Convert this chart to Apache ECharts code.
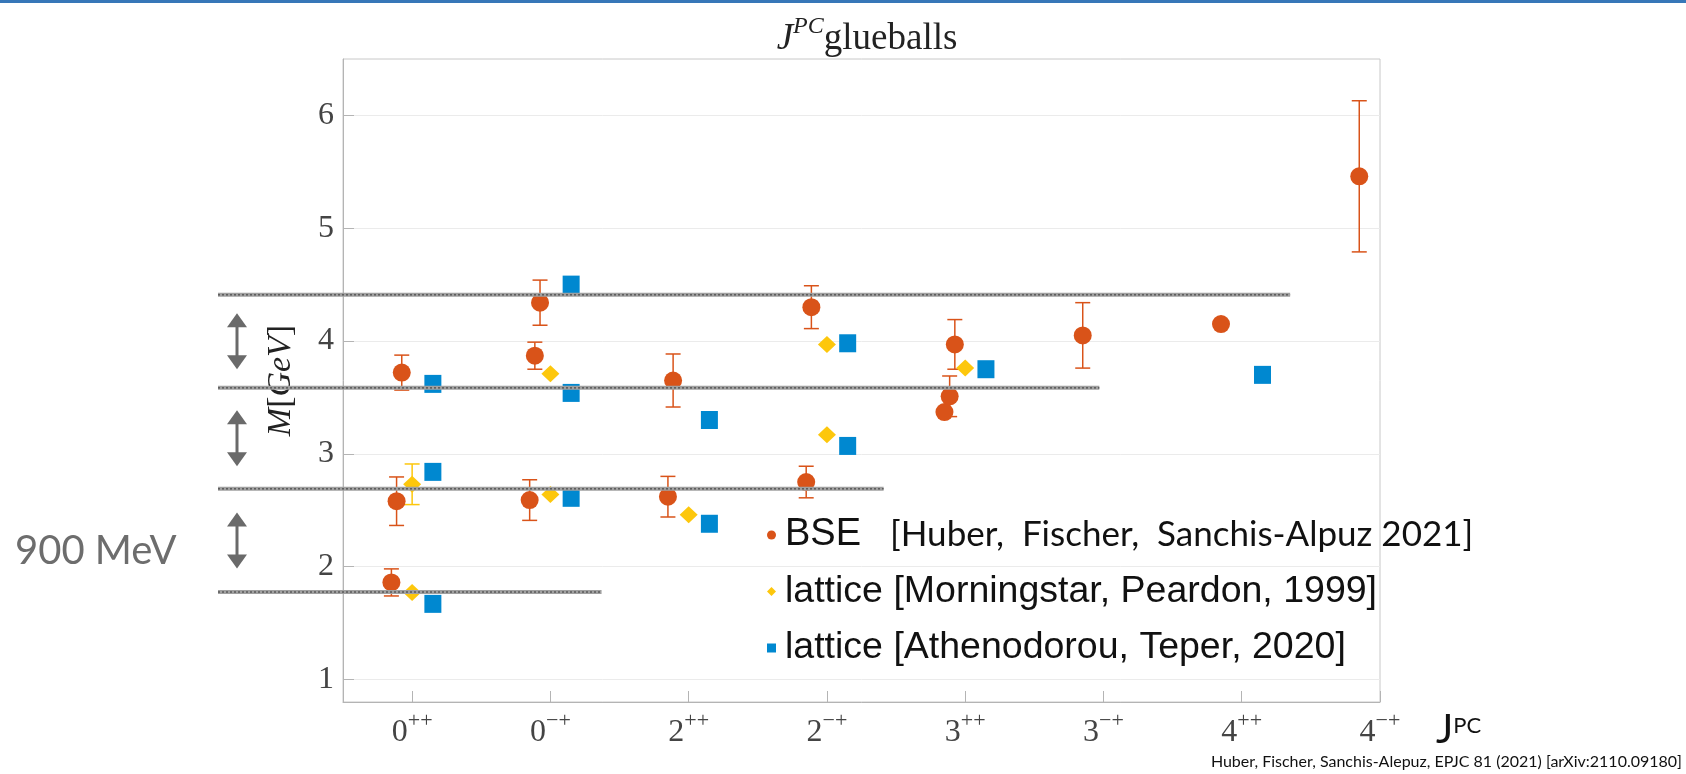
<!DOCTYPE html>
<html><head><meta charset="utf-8">
<script src="https://cdn.jsdelivr.net/npm/echarts@6/dist/echarts.min.js"></script>
<style>html,body{margin:0;padding:0;background:#fff}#c{width:1686px;height:774px}</style>
</head><body><div id="c"></div>
<script>
// ---------------- data ----------------
const catBase = ['0','0','2','2','3','3','4','4'];
const catSup  = ['++','\u2212+','++','\u2212+','++','\u2212+','++','\u2212+'];
const yTicks = [1,2,3,4,5,6];

// BSE [Huber, Fischer, Sanchis-Alpuz 2021]: channel index, excitation level, mass (GeV), error
const bseCat   = [0,0,0, 1,1,1, 2,2, 3,3, 4,4,4, 5, 6, 7];
const bseLevel = [0,1,2, 0,1,2, 0,1, 0,1, 0,1,2, 0, 0, 0];
const bseMass  = [1.86,2.58,3.72, 2.59,3.87,4.34, 2.62,3.65, 2.75,4.30, 3.37,3.51,3.97, 4.05, 4.15, 5.46];
const bseErr   = [0.12,0.215,0.155, 0.18,0.12,0.20, 0.18,0.235, 0.14,0.19, 0,0.18,0.22, 0.29, 0, 0.67];

// lattice [Morningstar, Peardon, 1999]
const mpCat  = [0,0, 1,1, 2, 3,3, 4];
const mpMass = [1.77,2.73, 2.64,3.71, 2.46, 3.17,3.97, 3.76];
const mpErr  = [0,0.18, 0,0, 0, 0,0, 0];

// lattice [Athenodorou, Teper, 2020]
const atCat  = [0,0,0, 1,1,1, 2,2, 3,3, 4, 6];
const atMass = [1.67,2.84,3.62, 2.61,3.54,4.50, 2.38,3.30, 3.07,3.98, 3.75, 3.70];

// 900 MeV level lines (GeV)
const levelLines = [1.775, 2.69, 3.585, 4.41];

// ---------------- chart ----------------
const C_BSE = '#D95319', C_MP = '#FDC70C', C_AT = '#0088D0';
const NAME_BSE = 'BSE [Huber, Fischer, Sanchis-Alpuz 2021]';
const NAME_MP = 'lattice [Morningstar, Peardon, 1999]';
const NAME_AT = 'lattice [Athenodorou, Teper, 2020]';

const bsePts = bseCat.map((c,i)=>[c - 0.15 + 0.0375*bseLevel[i], bseMass[i], bseErr[i]]);
const mpPts  = mpCat.map((c,i)=>[c, mpMass[i], mpErr[i]]);
const atPts  = atCat.map((c,i)=>[c + 0.15, atMass[i]]);

function errSeries(name, pts, color){
  const data = pts.filter(p=>p[2]>0).map(p=>[p[0], p[1]-p[2], p[1]+p[2]]);
  return {
    type:'custom', name, data, silent:true, z:2,
    encode:{x:0, y:[1,2]},
    renderItem(params, api){
      const x = api.value(0);
      const lo = api.coord([x, api.value(1)]);
      const hi = api.coord([x, api.value(2)]);
      const cw = 7.5, st = {stroke:color, lineWidth:1.5};
      return {type:'group', children:[
        {type:'line', shape:{x1:lo[0],y1:lo[1],x2:hi[0],y2:hi[1]}, style:st},
        {type:'line', shape:{x1:lo[0]-cw,y1:lo[1],x2:lo[0]+cw,y2:lo[1]}, style:st},
        {type:'line', shape:{x1:hi[0]-cw,y1:hi[1],x2:hi[0]+cw,y2:hi[1]}, style:st}
      ]};
    }
  };
}

const serif = 'Liberation Serif';
const chart = echarts.init(document.getElementById('c'), null, {renderer:'canvas'});
chart.setOption({
  animation:false,
  backgroundColor:'#fff',
  title:{
    text:'{j|J}{p|PC}{g|glueballs}',
    left:862, textAlign:'center', top:10,
    textStyle:{fontWeight:'normal', rich:{
      j:{fontFamily:serif, fontStyle:'italic', fontWeight:'normal', fontSize:37, color:'#222', lineHeight:48},
      p:{fontFamily:serif, fontStyle:'italic', fontWeight:'normal', fontSize:24, color:'#222', verticalAlign:'top', lineHeight:24},
      g:{fontFamily:serif, fontWeight:'normal', fontSize:37, color:'#222', lineHeight:48}
    }}
  },
  grid:{left:343, right:306, top:59, bottom:72, show:true, borderColor:'#c8c8c8', borderWidth:1},
  xAxis:{
    type:'value', min:-0.5, max:7,
    name:'{j|J}{p|PC}', nameLocation:'end', nameGap:56,
    nameTextStyle:{padding:[56,0,0,0], rich:{
      j:{fontFamily:'Lato', fontSize:41, color:'#111', lineHeight:44},
      p:{fontFamily:'Lato', fontSize:22, color:'#111', lineHeight:24, padding:[0,0,8,0]}
    }},
    splitLine:{show:false},
    axisLine:{onZero:false, lineStyle:{color:'#b4b4b4'}},
    axisTick:{inside:true, length:11, lineStyle:{color:'#b4b4b4'}, customValues:[0,1,2,3,4,5,6,7]},
    axisLabel:{
      customValues:[0,1,2,3,4,5,6,7], margin:8,
      formatter:(v)=>{const i=Math.round(v); return '{b|'+catBase[i]+'}{s|'+catSup[i]+'}';},
      rich:{
        b:{fontFamily:serif, fontSize:32, color:'#444', lineHeight:39, verticalAlign:'bottom'},
        s:{fontFamily:serif, fontSize:22, color:'#444', lineHeight:22, verticalAlign:'top'}
      }
    }
  },
  yAxis:{
    type:'value', min:0.8, max:6.5,
    name:'{i|M}{r|[}{i|GeV}{r|]}', nameLocation:'middle', nameGap:45, nameRotate:90,
    nameTextStyle:{rich:{
      i:{fontFamily:serif, fontStyle:'italic', fontSize:34, color:'#222'},
      r:{fontFamily:serif, fontSize:34, color:'#222'}
    }},
    splitLine:{lineStyle:{color:'#ebebeb'}},
    axisLine:{show:true, onZero:false, lineStyle:{color:'#b4b4b4'}},
    axisTick:{show:true, inside:true, length:11, lineStyle:{color:'#b4b4b4'}, customValues:yTicks},
    axisLabel:{customValues:yTicks, margin:9, fontFamily:serif, fontSize:32, color:'#444'}
  },
  legend:{
    orient:'vertical', left:762, top:510, itemWidth:9, itemHeight:9, itemGap:16.5,
    data:[{name:NAME_BSE, icon:'circle'},{name:NAME_MP, icon:'diamond'},{name:NAME_AT, icon:'rect'}],
    formatter:(n)=> n===NAME_BSE ? '{a|BSE}{c|[Huber,  Fischer,  Sanchis-Alpuz 2021]}' : '{d|'+n+'}',
    textStyle:{color:'#111', fontSize:37.5, lineHeight:40, padding:[0,0,0,4], rich:{
      a:{fontFamily:'Liberation Sans', fontSize:38, color:'#111', width:105, lineHeight:40},
      c:{fontFamily:'Lato', fontSize:35, color:'#111', lineHeight:40},
      d:{fontFamily:'Liberation Sans', fontSize:37.5, color:'#111', lineHeight:40}
    }}
  },
  series:[
    errSeries('err-bse', bsePts, C_BSE),
    errSeries('err-mp', mpPts, C_MP),
    {type:'scatter', name:NAME_BSE, data:bsePts.map(p=>[p[0],p[1]]), symbol:'circle', symbolSize:18, itemStyle:{color:C_BSE, opacity:1}, z:3},
    {type:'scatter', name:NAME_MP, data:mpPts.map(p=>[p[0],p[1]]), symbol:'diamond', symbolSize:[18,17], itemStyle:{color:C_MP, opacity:1}, z:3},
    {type:'scatter', name:NAME_AT, data:atPts, symbol:'rect', symbolSize:[17,18], itemStyle:{color:C_AT, opacity:1}, z:3}
  ]
});

// ---------------- annotations ----------------
const lineStartPx = 218;
const lineEndsX = [1.37, 3.41, 4.97, 6.35];
const arrowX = 237;
const g = [];
g.push({type:'rect', left:0, top:0, shape:{width:1686, height:3}, style:{fill:'#3777b8'}, z:100});
levelLines.forEach((v,i)=>{
  const y = chart.convertToPixel({gridIndex:0}, [0, v])[1];
  const xe = chart.convertToPixel({gridIndex:0}, [lineEndsX[i], v])[0];
  g.push({type:'line', shape:{x1:lineStartPx, y1:y, x2:xe, y2:y}, style:{stroke:'#a0a0a0', lineWidth:4}, z:50});
  g.push({type:'line', shape:{x1:lineStartPx, y1:y, x2:xe, y2:y}, style:{stroke:'#5e5e5e', lineWidth:1.6, lineDash:[2,2]}, z:51});
});
for (let i=0;i<levelLines.length-1;i++){
  const y1 = chart.convertToPixel({gridIndex:0}, [0, levelLines[i]])[1];
  const y2 = chart.convertToPixel({gridIndex:0}, [0, levelLines[i+1]])[1];
  const mid = (y1+y2)/2, h = 28, hw = 10, hh = 14;
  const top = mid - h, bot = mid + h;
  g.push({type:'line', shape:{x1:arrowX, y1:top+hh-2, x2:arrowX, y2:bot-hh+2}, style:{stroke:'#6a6a6a', lineWidth:3}, z:50});
  g.push({type:'polygon', shape:{points:[[arrowX,top],[arrowX-hw,top+hh],[arrowX+hw,top+hh]]}, style:{fill:'#6a6a6a'}, z:50});
  g.push({type:'polygon', shape:{points:[[arrowX,bot],[arrowX-hw,bot-hh],[arrowX+hw,bot-hh]]}, style:{fill:'#6a6a6a'}, z:50});
}
g.push({type:'text', left:15, top:531, style:{text:'900 MeV', fontFamily:'Lato', fontSize:40, fill:'#6d6d6d'}, z:50});
g.push({type:'text', right:4, top:754, style:{text:'Huber, Fischer, Sanchis-Alepuz, EPJC 81 (2021) [arXiv:2110.09180]', fontFamily:'Lato', fontSize:16, fill:'#111'}, z:50});
chart.setOption({graphic:g});
</script></body></html>
